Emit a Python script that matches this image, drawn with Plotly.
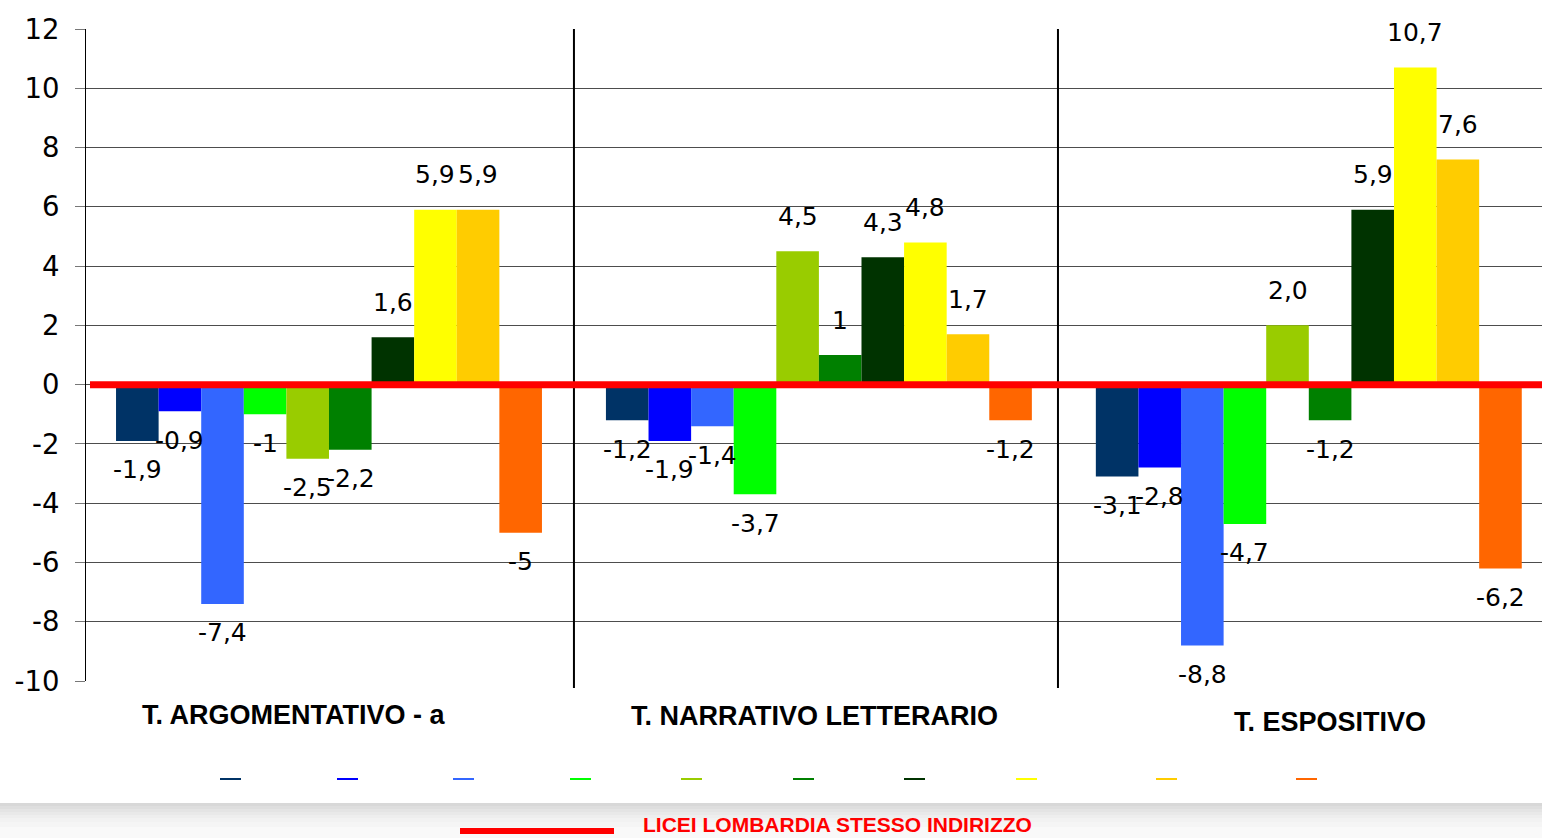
import plotly.graph_objects as go

# ---------------- data ----------------
categories = ["T. ARGOMENTATIVO - a", "T. NARRATIVO LETTERARIO", "T. ESPOSITIVO"]

series_names = ["Serie 1", "Serie 2", "Serie 3", "Serie 4", "Serie 5",
                "Serie 6", "Serie 7", "Serie 8", "Serie 9", "Serie 10"]

s1 = [-1.9, -1.2, -3.1]
s2 = [-0.9, -1.9, -2.8]
s3 = [-7.4, -1.4, -8.8]
s4 = [-1.0, -3.7, -4.7]
s5 = [-2.5, 4.5, 2.0]
s6 = [-2.2, 1.0, -1.2]
s7 = [1.6, 4.3, 5.9]
s8 = [5.9, 4.8, 10.7]
s9 = [5.9, 1.7, 7.6]
s10 = [-5.0, -1.2, -6.2]

l1 = ["-1,9", "-1,2", "-3,1"]
l2 = ["-0,9", "-1,9", "-2,8"]
l3 = ["-7,4", "-1,4", "-8,8"]
l4 = ["-1", "-3,7", "-4,7"]
l5 = ["-2,5", "4,5", "2,0"]
l6 = ["-2,2", "1", "-1,2"]
l7 = ["1,6", "4,3", "5,9"]
l8 = ["5,9", "4,8", "10,7"]
l9 = ["5,9", "1,7", "7,6"]
l10 = ["-5", "-1,2", "-6,2"]

reference_name = "LICEI LOMBARDIA STESSO INDIRIZZO"
reference_value = 0

y_tickvals = [-10, -8, -6, -4, -2, 0, 2, 4, 6, 8, 10, 12]
y_ticktext = ["-10", "-8", "-6", "-4", "-2", "0", "2", "4", "6", "8", "10", "12"]

colors = ["#003366", "#0000FF", "#3366FF", "#00FF00", "#99CC00",
          "#008000", "#003300", "#FFFF00", "#FFCC00", "#FF6600"]

values = [s1, s2, s3, s4, s5, s6, s7, s8, s9, s10]
labels = [l1, l2, l3, l4, l5, l6, l7, l8, l9, l10]

# ---------------- layout helpers ----------------
W, H = 1542, 838
ML, MR, MT, MB = 86, 0, 29, 157
PW, PH = W - ML - MR, H - MT - MB
FONT = "Arial, Liberation Sans, sans-serif"
NUMFONT = "DejaVu Sans, Arial, sans-serif"


def px(x):
    return (x - ML) / PW


def py(y):
    return (H - MB - y) / PH


X_RANGE = [-0.496, 2.476]
BARGAP = 0.1306
SEPARATORS = [0.5, 1.488]
n = len(values)
bw = (1 - BARGAP) / n

fig = go.Figure()
for name, vals, col in zip(series_names, values, colors):
    fig.add_trace(go.Bar(x=categories, y=vals, name=name,
                         marker=dict(color=col, line=dict(width=0)),
                         showlegend=False))

annotations = []
for i, (vals, labs) in enumerate(zip(values, labels)):
    for g, (v, t) in enumerate(zip(vals, labs)):
        annotations.append(dict(
            x=g + (i - (n - 1) / 2) * bw, y=v, xref="x", yref="y",
            text=t, showarrow=False, xanchor="center", yanchor="middle",
            yshift=35 if v >= 0 else -29,
            font=dict(size=25, color="black", family=NUMFONT)))

# category labels (placed as in the reference)
cat_pos = [(293, 715), (814.5, 716), (1330, 722)]
for c, (cx, cy) in zip(categories, cat_pos):
    annotations.append(dict(
        x=px(cx), y=py(cy), xref="paper", yref="paper", text=c,
        showarrow=False, xanchor="center", yanchor="middle",
        font=dict(size=27, color="black", family=FONT, weight="bold")))

# legend text for the reference line
annotations.append(dict(
    x=px(641), y=py(838), xref="paper", yref="paper", text=reference_name,
    showarrow=False, xanchor="left", yanchor="bottom",
    font=dict(size=21, color="#FF0000", family=FONT, weight="bold")))

shapes = []
# gray gradient band at the bottom
band = [(803, 806, "#d8d8d8"), (806, 809, "#dedede"), (809, 812, "#e4e4e4"),
        (812, 815, "#e9e9e9"), (815, 818, "#eeeeee"), (818, 822, "#f2f2f2"),
        (822, 827, "#f5f5f5"), (827, 839, "#f9f9f9")]
for y0, y1, c in band:
    shapes.append(dict(type="rect", xref="paper", yref="paper",
                       x0=px(0), x1=px(W), y0=py(y1), y1=py(y0),
                       fillcolor=c, line=dict(width=0), layer="below"))

# category separators
for sx in SEPARATORS:
    shapes.append(dict(type="line", xref="x", yref="paper",
                       x0=sx, x1=sx, y0=py(688), y1=1,
                       line=dict(color="black", width=2), layer="above"))

# small legend keys for the bar series
key_left = [220, 337, 453, 570, 681, 793, 904, 1016, 1156, 1296]
for xl, c in zip(key_left, colors):
    shapes.append(dict(type="line", xref="paper", yref="paper",
                       x0=px(xl), x1=px(xl + 21), y0=py(779), y1=py(779),
                       line=dict(color=c, width=2)))

# reference line (value 0) drawn above the bars
shapes.append(dict(type="line", xref="paper", yref="y",
                   x0=px(90), x1=1, y0=reference_value, y1=reference_value,
                   line=dict(color="#FF0000", width=7), layer="above"))
# its legend key
shapes.append(dict(type="line", xref="paper", yref="paper",
                   x0=px(460), x1=px(614), y0=py(831), y1=py(831),
                   line=dict(color="#FF0000", width=6)))

fig.update_layout(
    width=W, height=H,
    margin=dict(l=ML, r=MR, t=MT, b=MB, pad=0),
    paper_bgcolor="white", plot_bgcolor="white",
    barmode="group", bargap=BARGAP, bargroupgap=0,
    showlegend=False,
    font=dict(family=FONT, color="black"),
    xaxis=dict(type="category", range=X_RANGE, showticklabels=False,
               showgrid=False, ticks="", showline=False, zeroline=False),
    yaxis=dict(range=[-10, 12], tickvals=y_tickvals, ticktext=y_ticktext,
               showgrid=True, gridcolor="#4d4d4d", gridwidth=1,
               ticks="outside", ticklen=10, tickcolor="#777777",
               showline=True, linecolor="black", linewidth=1, zeroline=False,
               tickfont=dict(size=27.5, color="black", family=NUMFONT),
               ticklabelstandoff=10),
    annotations=annotations,
    shapes=shapes,
)

fig.write_html("out.html", config={"displayModeBar": False},
               post_script="document.body.style.margin='0';")
